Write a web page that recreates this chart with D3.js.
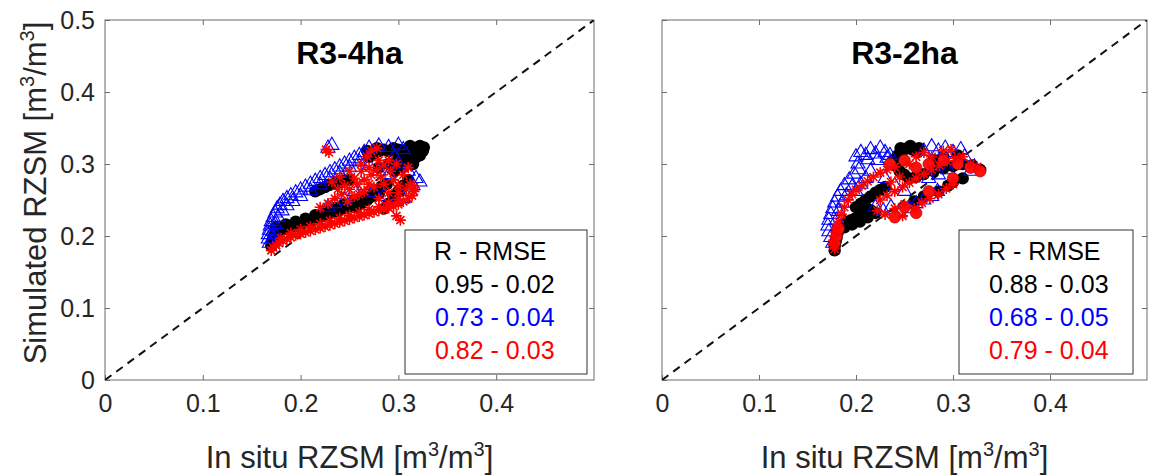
<!DOCTYPE html>
<html><head><meta charset="utf-8">
<script src="https://cdn.jsdelivr.net/npm/d3@7"></script>
<style>body{margin:0;background:#fff}svg{display:block}text{font-family:"Liberation Sans",Arial,sans-serif}</style>
</head><body><svg id="c" width="1149" height="476"></svg>
<script>
const ticks = [0, 0.1, 0.2, 0.3, 0.4, 0.5];
const xTickLabels = ["0", "0.1", "0.2", "0.3", "0.4"];
const yTickLabels = ["0", "0.1", "0.2", "0.3", "0.4", "0.5"];
const titles = ["R3-4ha", "R3-2ha"];
const statsHeader = "R - RMSE";
const statsLeft = ["0.95 - 0.02", "0.73 - 0.04", "0.82 - 0.03"];
const statsRight = ["0.88 - 0.03", "0.68 - 0.05", "0.79 - 0.04"];

// R3-4ha
const blackLeft = [[0.170,0.186],[0.171,0.192],[0.172,0.198],[0.174,0.203],[0.177,0.206],[0.181,0.208],[0.185,0.210],[0.190,0.212],[0.195,0.214],[0.200,0.216],[0.205,0.219],[0.210,0.221],[0.215,0.224],[0.220,0.226],[0.225,0.229],[0.230,0.231],[0.235,0.234],[0.240,0.236],[0.245,0.239],[0.250,0.241],[0.255,0.244],[0.260,0.247],[0.265,0.250],[0.270,0.253],[0.275,0.256],[0.280,0.259],
[0.175,0.212],[0.185,0.216],[0.195,0.220],[0.205,0.224],[0.215,0.229],[0.225,0.234],[0.235,0.239],[0.245,0.244],[0.255,0.249],[0.265,0.255],[0.275,0.261],
[0.215,0.262],[0.220,0.265],[0.225,0.268],[0.230,0.271],[0.235,0.273],[0.240,0.275],[0.245,0.277],[0.250,0.278],
[0.256,0.240],[0.262,0.245],[0.268,0.250],[0.275,0.262],[0.282,0.268],[0.288,0.272],[0.285,0.238],[0.290,0.245],[0.295,0.255],[0.300,0.262],[0.305,0.270],[0.310,0.278],
[0.270,0.310],[0.275,0.314],[0.280,0.318],[0.285,0.320],[0.290,0.318],[0.295,0.322],[0.300,0.320],[0.305,0.316],[0.310,0.322],[0.315,0.318],[0.320,0.320],[0.325,0.318],[0.300,0.308],[0.310,0.305],[0.318,0.310],[0.322,0.312],[0.290,0.300],[0.280,0.295],[0.296,0.290],[0.305,0.296],[0.315,0.300],
[0.268,0.318],[0.278,0.322],[0.312,0.325],[0.322,0.325],[0.326,0.323]];
const blueLeft = [[0.168,0.190],[0.167,0.196],[0.167,0.202],[0.168,0.208],[0.169,0.214],[0.170,0.220],[0.172,0.226],[0.174,0.232],[0.176,0.238],[0.179,0.243],[0.182,0.248],[0.186,0.252],[0.190,0.256],[0.195,0.260],[0.200,0.264],[0.205,0.268],[0.210,0.272],[0.215,0.276],[0.220,0.280],[0.225,0.284],[0.230,0.288],[0.235,0.292],[0.240,0.296],[0.245,0.300],[0.250,0.304],[0.255,0.308],[0.260,0.312],[0.265,0.316],
[0.172,0.196],[0.172,0.206],[0.174,0.216],[0.177,0.226],[0.181,0.235],[0.186,0.242],[0.192,0.248],[0.200,0.255],[0.210,0.263],[0.220,0.271],[0.230,0.279],[0.240,0.287],[0.250,0.295],[0.260,0.303],
[0.228,0.322],[0.232,0.326],[0.270,0.322],[0.280,0.325],[0.290,0.323],[0.300,0.326],[0.305,0.320],[0.296,0.310],[0.300,0.300],[0.310,0.290],[0.318,0.280],[0.322,0.275],[0.315,0.270],[0.312,0.262],[0.305,0.252],[0.298,0.248],[0.285,0.255],[0.275,0.260],[0.265,0.270],[0.255,0.262],[0.245,0.250],[0.235,0.245],[0.228,0.240],[0.290,0.285],[0.280,0.290],[0.270,0.298]];
const redLeft = [[0.170,0.180],[0.172,0.184],[0.175,0.187],[0.178,0.190],[0.182,0.193],[0.186,0.196],[0.190,0.198],[0.195,0.201],[0.200,0.203],[0.205,0.205],[0.210,0.207],[0.215,0.209],[0.220,0.211],[0.225,0.213],[0.230,0.215],[0.235,0.217],[0.240,0.219],[0.245,0.221],[0.250,0.223],[0.255,0.225],[0.260,0.227],[0.265,0.229],[0.270,0.231],[0.275,0.233],[0.280,0.235],[0.285,0.237],[0.290,0.239],[0.295,0.241],[0.300,0.244],[0.305,0.248],[0.310,0.252],[0.314,0.256],[0.316,0.262],[0.316,0.268],[0.312,0.272],
[0.180,0.197],[0.190,0.204],[0.200,0.209],[0.210,0.213],[0.220,0.217],[0.230,0.221],[0.240,0.225],[0.250,0.229],[0.260,0.233],[0.270,0.237],[0.280,0.241],[0.290,0.246],[0.300,0.251],
[0.302,0.222],[0.298,0.228],
[0.220,0.240],[0.228,0.245],[0.235,0.252],[0.242,0.258],[0.250,0.265],[0.258,0.272],[0.265,0.278],[0.272,0.285],[0.278,0.292],[0.285,0.298],[0.290,0.305],[0.262,0.300],[0.268,0.310],[0.272,0.318],[0.278,0.322],[0.250,0.290],[0.240,0.282],[0.232,0.275],[0.255,0.255],[0.265,0.262],[0.275,0.268],[0.285,0.272],[0.295,0.278],[0.300,0.270],[0.290,0.260],[0.280,0.252],[0.305,0.285],[0.310,0.295],[0.226,0.320],[0.229,0.316],
[0.245,0.270],[0.255,0.280],[0.262,0.290],[0.270,0.295],[0.280,0.305],[0.298,0.300],[0.260,0.258],[0.270,0.272],[0.282,0.282],[0.292,0.290],[0.300,0.260],[0.308,0.265],[0.238,0.265],[0.248,0.248]];

// R3-2ha
const blackRight = [[0.178,0.180],[0.178,0.186],[0.179,0.192],[0.180,0.198],[0.181,0.204],[0.182,0.210],[0.185,0.215],[0.190,0.219],[0.195,0.222],[0.200,0.225],[0.205,0.228],[0.210,0.232],[0.215,0.236],[0.200,0.240],[0.205,0.245],[0.210,0.250],[0.215,0.255],[0.220,0.260],[0.225,0.264],[0.230,0.268],[0.238,0.305],[0.243,0.312],[0.248,0.318],[0.253,0.322],[0.258,0.320],[0.263,0.316],[0.240,0.298],[0.245,0.290],[0.250,0.285],[0.255,0.280],[0.262,0.282],[0.270,0.286],[0.280,0.290],[0.290,0.294],[0.300,0.297],[0.310,0.300],[0.320,0.298],[0.328,0.292],[0.300,0.275],[0.295,0.270],[0.310,0.280],[0.285,0.262],[0.270,0.255],[0.260,0.248],[0.280,0.305],[0.290,0.310],[0.305,0.312],
[0.188,0.212],[0.196,0.216],[0.204,0.220],[0.212,0.226],[0.220,0.232],[0.246,0.322],[0.256,0.325],[0.265,0.322]];
const blueRight = [[0.176,0.190],[0.174,0.198],[0.172,0.206],[0.171,0.214],[0.172,0.222],[0.174,0.230],[0.176,0.238],[0.178,0.246],[0.181,0.254],[0.184,0.262],[0.188,0.270],[0.193,0.278],[0.198,0.286],[0.203,0.292],[0.200,0.310],[0.205,0.316],[0.210,0.312],[0.215,0.320],[0.220,0.314],[0.225,0.322],[0.230,0.316],[0.235,0.312],[0.270,0.318],[0.278,0.324],[0.285,0.318],[0.292,0.322],[0.300,0.316],[0.308,0.320],[0.312,0.310],[0.303,0.300],[0.295,0.292],[0.285,0.285],[0.275,0.280],[0.220,0.240],[0.228,0.235],[0.236,0.240],[0.245,0.232],[0.255,0.238],[0.262,0.245],[0.270,0.250],[0.278,0.255],[0.284,0.262],[0.250,0.262],[0.240,0.270],[0.230,0.280],[0.215,0.290],[0.210,0.280],[0.205,0.272],[0.200,0.262],[0.322,0.296],[0.318,0.290],
[0.180,0.222],[0.182,0.234],[0.186,0.246],[0.190,0.256],[0.196,0.268],[0.202,0.300],[0.212,0.306],[0.222,0.305],[0.232,0.308]];
const redRight = [[0.178,0.182],[0.177,0.188],[0.177,0.194],[0.178,0.200],[0.179,0.206],[0.180,0.212],[0.182,0.220],[0.185,0.230],[0.188,0.240],[0.192,0.250],[0.196,0.258],[0.200,0.264],[0.206,0.270],[0.212,0.276],[0.218,0.282],[0.225,0.288],[0.232,0.292],[0.240,0.296],[0.225,0.250],[0.232,0.256],[0.240,0.262],[0.248,0.268],[0.255,0.274],[0.262,0.280],[0.270,0.286],[0.278,0.292],[0.286,0.298],[0.294,0.304],[0.302,0.308],[0.310,0.310],[0.318,0.300],[0.325,0.296],[0.222,0.235],[0.230,0.230],[0.240,0.238],[0.250,0.244],[0.260,0.238],[0.268,0.246],[0.276,0.252],[0.285,0.258],[0.293,0.266],[0.300,0.272],[0.248,0.228],[0.255,0.300],[0.262,0.310],[0.270,0.316],[0.278,0.310],[0.290,0.318],[0.298,0.320],[0.236,0.275],[0.245,0.282]];
const redRightCircles = [[0.178,0.190],[0.180,0.200],[0.182,0.210],[0.235,0.300],[0.250,0.305],[0.262,0.295],[0.275,0.300],[0.290,0.305],[0.305,0.300],[0.318,0.295],[0.328,0.290],[0.300,0.280],[0.250,0.240],[0.240,0.226],[0.262,0.232],[0.275,0.262]];

const svg = d3.select("#c");
const axisColor = "#6a6a6a";
const panels = [
  {x0:105, x1:594, title:titles[0], black:blackLeft, blue:blueLeft, red:redLeft, redC:[], stats:statsLeft, box:[405,587], showY:true},
  {x0:662, x1:1147, title:titles[1], black:blackRight, blue:blueRight, red:redRight, redC:redRightCircles, stats:statsRight, box:[959,1133], showY:false}
];
const y0 = 20, y1 = 380;
const starPath = "M-5.5,0L5.5,0M0,-5.5L0,5.5M-4,-4L4,4M-4,4L4,-4";

function unitLabel(sel, base) {
  sel.append("tspan").text(base + " [m");
  sel.append("tspan").attr("font-size", 20).attr("dy", -12).text("3");
  sel.append("tspan").attr("dy", 12).text("/m");
  sel.append("tspan").attr("font-size", 20).attr("dy", -12).text("3");
  sel.append("tspan").attr("dy", 12).text("]");
}

panels.forEach(p => {
  const x = d3.scaleLinear().domain([0, 0.5]).range([p.x0, p.x1]);
  const y = d3.scaleLinear().domain([0, 0.5]).range([y1, y0]);
  const g = svg.append("g");

  const cid = "clip" + p.x0;
  svg.append("clipPath").attr("id", cid).append("rect")
    .attr("x", p.x0).attr("y", y0).attr("width", p.x1 - p.x0).attr("height", y1 - y0);

  const ax = d3.axisBottom(x).tickValues(ticks.slice(0,5)).tickSize(-5).tickPadding(14).tickFormat((d,i)=>xTickLabels[i]);
  const gx = g.append("g").attr("transform", `translate(0,${y1})`).call(ax);
  gx.select(".domain").remove();
  gx.selectAll("line").attr("stroke", axisColor);
  gx.selectAll("text").attr("font-size", 25).attr("fill", "#262626");

  const axT = d3.axisTop(x).tickValues(ticks.slice(1,5)).tickSize(-5).tickFormat("");
  const gxt = g.append("g").attr("transform", `translate(0,${y0})`).call(axT);
  gxt.select(".domain").remove(); gxt.selectAll("line").attr("stroke", axisColor);

  const ay = d3.axisLeft(y).tickValues(ticks).tickSize(-5).tickPadding(10).tickFormat((d,i)=>p.showY ? yTickLabels[i] : "");
  const gy = g.append("g").attr("transform", `translate(${p.x0},0)`).call(ay);
  gy.select(".domain").remove(); gy.selectAll("line").attr("stroke", axisColor);
  gy.selectAll("text").attr("font-size", 25).attr("fill", "#262626");

  const ayR = d3.axisRight(y).tickValues(ticks.slice(1,5)).tickSize(-5).tickFormat("");
  const gyr = g.append("g").attr("transform", `translate(${p.x1},0)`).call(ayR);
  gyr.select(".domain").remove(); gyr.selectAll("line").attr("stroke", axisColor);

  g.append("rect").attr("x", p.x0).attr("y", y0).attr("width", p.x1 - p.x0).attr("height", y1 - y0)
    .attr("fill", "none").attr("stroke", axisColor).attr("stroke-width", 1);

  const pg = g.append("g").attr("clip-path", `url(#${cid})`);
  pg.append("line").attr("x1", x(0)).attr("y1", y(0)).attr("x2", x(0.5)).attr("y2", y(0.5))
    .attr("stroke", "#111").attr("stroke-width", 2).attr("stroke-dasharray", "8,6");

  pg.selectAll(".bk").data(p.black).join("circle")
    .attr("cx", d => x(d[0])).attr("cy", d => y(d[1])).attr("r", 6.2).attr("fill", "#000");
  const tri = d3.symbol().type(d3.symbolTriangle).size(85);
  pg.selectAll(".bl").data(p.blue).join("path")
    .attr("d", tri).attr("transform", d => `translate(${x(d[0])},${y(d[1])})`)
    .attr("fill", "none").attr("stroke", "#0000ff").attr("stroke-width", 1.1);
  pg.selectAll(".rdc").data(p.redC).join("circle")
    .attr("cx", d => x(d[0])).attr("cy", d => y(d[1])).attr("r", 5.8)
    .attr("fill", "#ff1010").attr("stroke", "#b00000").attr("stroke-width", 0.7);
  pg.selectAll(".rd").data(p.red).join("path")
    .attr("d", starPath).attr("transform", d => `translate(${x(d[0])},${y(d[1])})`)
    .attr("fill", "none").attr("stroke", "#ff0000").attr("stroke-width", 1.6);

  g.append("text").attr("x", (p.x0 + p.x1) / 2).attr("y", 64).attr("text-anchor", "middle")
    .attr("font-size", 32).attr("font-weight", "bold").attr("fill", "#000").text(p.title);

  g.append("rect").attr("x", p.box[0]).attr("y", 230).attr("width", p.box[1] - p.box[0]).attr("height", 144)
    .attr("fill", "#fff").attr("stroke", "#333").attr("stroke-width", 1);
  const tx = p.box[0] + 29;
  g.append("text").attr("x", tx).attr("y", 260).attr("font-size", 25).attr("fill", "#000").text(statsHeader);
  const cols = ["#000", "#0000ff", "#ff0000"];
  p.stats.forEach((s, i) => {
    g.append("text").attr("x", tx + 1).attr("y", 293 + i * 33)
      .attr("font-size", 25).attr("fill", cols[i]).text(s);
  });

  const xt = g.append("text").attr("x", (p.x0 + p.x1) / 2).attr("y", 468).attr("text-anchor", "middle")
    .attr("font-size", 31).attr("fill", "#262626");
  unitLabel(xt, "In situ RZSM");
});

const yt = svg.append("text").attr("transform", "translate(46,193) rotate(-90)").attr("text-anchor", "middle")
  .attr("font-size", 31).attr("fill", "#262626");
unitLabel(yt, "Simulated RZSM");
</script></body></html>
